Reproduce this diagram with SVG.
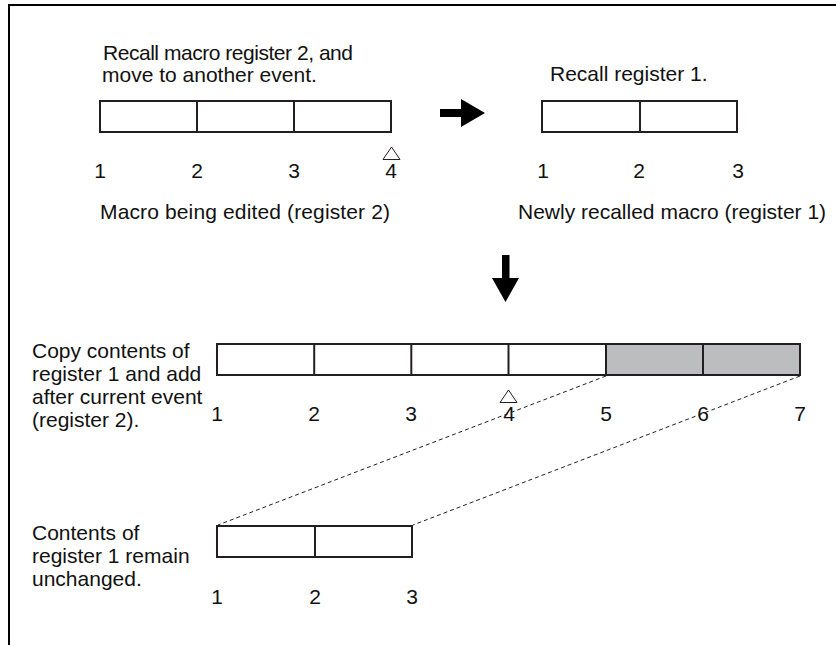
<svg xmlns="http://www.w3.org/2000/svg" width="836" height="645" viewBox="0 0 836 645">
<style>
text{font-family:"Liberation Sans",Arial,sans-serif;font-size:21px;fill:#111}
.n{text-anchor:middle}
.box{fill:#fff;stroke:#231f20;stroke-width:2}
.gray{fill:#bcbdbf;stroke:#231f20;stroke-width:2}
.div{stroke:#231f20;stroke-width:2}
.dash{stroke:#231f20;stroke-width:1;stroke-dasharray:4 3;fill:none}
.tri{fill:#fff;stroke:#231f20;stroke-width:1}
</style>
<rect width="836" height="645" fill="#fff"/>
<g id="frame">
<line x1="8" y1="5" x2="836" y2="5" stroke="#000" stroke-width="2"/>
<line x1="9" y1="4" x2="9" y2="645" stroke="#000" stroke-width="2"/>
</g>
<g id="editing">
<text x="103" y="60" textLength="250" lengthAdjust="spacing">Recall macro register 2, and</text>
<text x="102" y="82">move to another event.</text>
<rect class="box" x="100" y="101" width="291" height="31"/>
<line class="div" x1="197" y1="101" x2="197" y2="132"/>
<line class="div" x1="294" y1="101" x2="294" y2="132"/>
<polygon class="tri" points="391.5,147 383,159.5 400,159.5"/>
<text class="n" x="100" y="178">1</text>
<text class="n" x="197" y="178">2</text>
<text class="n" x="294" y="178">3</text>
<text class="n" x="391" y="178">4</text>
<text x="100" y="219" textLength="290" lengthAdjust="spacing">Macro being edited (register 2)</text>
</g>
<g id="recalled">
<text x="550" y="81">Recall register 1.</text>
<rect class="box" x="542" y="101" width="195" height="31"/>
<line class="div" x1="640" y1="101" x2="640" y2="132"/>
<text class="n" x="543" y="178">1</text>
<text class="n" x="639" y="178">2</text>
<text class="n" x="738" y="178">3</text>
<text x="518" y="219">Newly recalled macro (register 1)</text>
</g>
<g id="result">
<text x="32" y="358">Copy contents of</text>
<text x="32" y="381">register 1 and add</text>
<text x="32" y="404">after current event</text>
<text x="32" y="427">(register 2).</text>
<rect class="box" x="217" y="344" width="583" height="31"/>
<rect class="gray" x="606" y="344" width="194" height="31"/>
<line class="div" x1="314.2" y1="344" x2="314.2" y2="375"/>
<line class="div" x1="411.3" y1="344" x2="411.3" y2="375"/>
<line class="div" x1="508.5" y1="344" x2="508.5" y2="375"/>
<line class="div" x1="703" y1="344" x2="703" y2="375"/>
<polygon class="tri" points="508.5,390 500,402.5 517,402.5"/>
<text class="n" x="217" y="421">1</text>
<text class="n" x="314" y="421">2</text>
<text class="n" x="411" y="421">3</text>
<text class="n" x="509" y="421">4</text>
<text class="n" x="606" y="421">5</text>
<text class="n" x="703" y="421">6</text>
<text class="n" x="800" y="421">7</text>
</g>
<g id="source">
<text x="32" y="540">Contents of</text>
<text x="32" y="563">register 1 remain</text>
<text x="32" y="586">unchanged.</text>
<rect class="box" x="217" y="526" width="195" height="31"/>
<line class="div" x1="315" y1="526" x2="315" y2="557"/>
<text class="n" x="217" y="604">1</text>
<text class="n" x="315" y="604">2</text>
<text class="n" x="412" y="604">3</text>
</g>
<g id="connectors">
<rect x="440" y="109" width="22" height="8" fill="#000"/>
<polygon points="461,99 485,113 461,127" fill="#000"/>
<rect x="502" y="255" width="7.5" height="24" fill="#000"/>
<polygon points="492,278 519,278 505.5,302" fill="#000"/>
<line class="dash" x1="606" y1="376" x2="218" y2="525"/>
<line class="dash" x1="800" y1="376" x2="413" y2="525"/>
</g>
</svg>
